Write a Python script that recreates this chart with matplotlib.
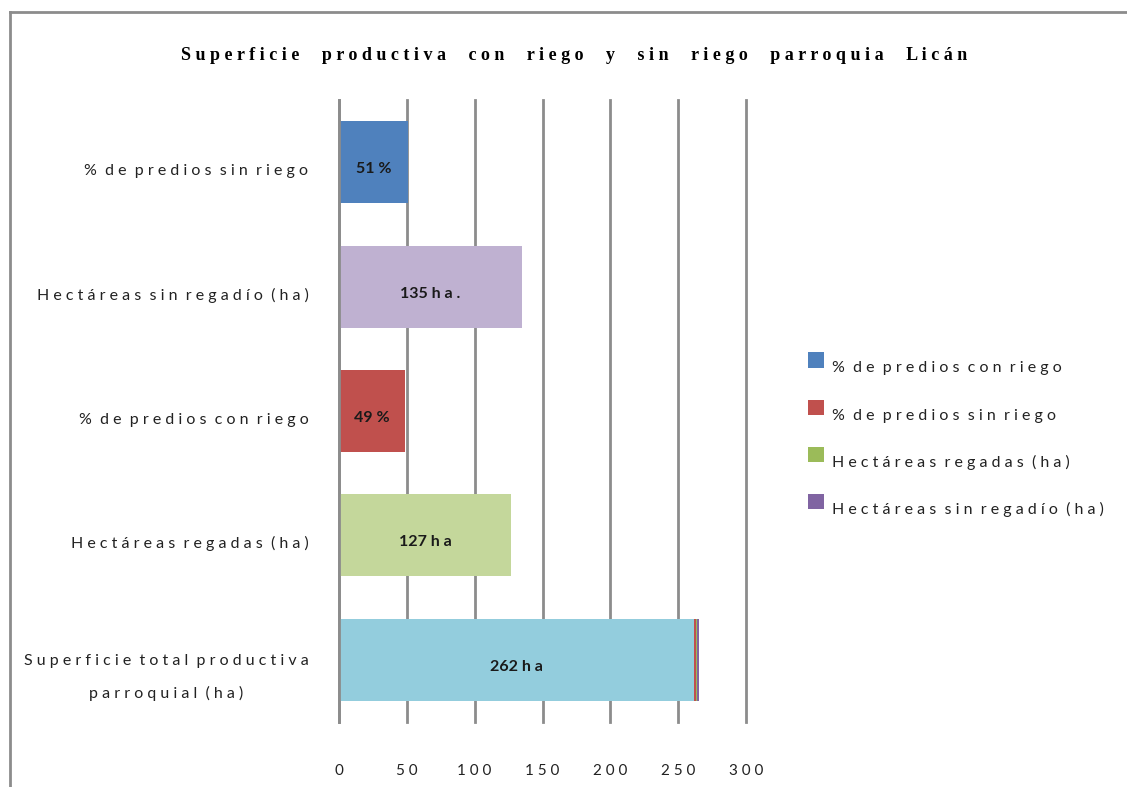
import matplotlib.pyplot as plt
import matplotlib.transforms as mtransforms
from matplotlib.lines import Line2D
from matplotlib.patches import Patch, Rectangle
from matplotlib.legend_handler import HandlerPatch

# datos (de abajo hacia arriba)
categorias = ["Superficie total productiva\nparroquial (ha)",
              "Hectáreas regadas (ha)",
              "% de predios con riego",
              "Hectáreas sin regadío (ha)",
              "% de predios sin riego"]
valores = [262, 127, 49, 135, 51]
etiquetas = ["262 h a", "127 h a", "49 %", "135 h a .", "51 %"]
colores_barras = ["#93CDDD", "#C4D79B", "#C0504D", "#BFB1D1", "#4F81BD"]
# pequeños segmentos apilados al final de la barra total
extra_total = [1.4, 0.7, 1.4]
extra_colores = ["#C0504D", "#9BBB59", "#8064A2"]

leyenda_txt = ["% de predios con riego", "% de predios sin riego",
               "Hectáreas regadas (ha)", "Hectáreas sin regadío (ha)"]
leyenda_col = ["#4F81BD", "#C0504D", "#9BBB59", "#8064A2"]
ticks = [0, 50, 100, 150, 200, 250, 300]


def esp(s, sep="  "):
    # imitar el espaciado de letras del original
    return sep.join(" ".join(w) for w in s.split(" "))


def cuadro_alto(legend, orig_handle, xdescent, ydescent, width, height, fontsize):
    # el cuadrito de la leyenda queda un poco más arriba que el texto
    return Rectangle((-xdescent, -ydescent + 5), width, height)


fuente = "Lato"
fig = plt.figure(figsize=(11.27, 7.87), dpi=100)
ax = fig.add_axes([339 / 1127, 1 - 722 / 787, 407 / 1127, 622 / 787])
abajo = mtransforms.ScaledTranslation(0, -7 / 100, fig.dpi_scale_trans)

pos = list(range(len(valores)))
ax.barh(pos, valores, height=0.66, color=colores_barras, zorder=2)
izq = valores[0]
for v, c in zip(extra_total, extra_colores):
    ax.barh(0, v, left=izq, height=0.66, color=c, zorder=2, linewidth=0)
    izq += v

for p, v, t in zip(pos, valores, etiquetas):
    ax.text(v / 2, p, t, ha="center", va="center", fontsize=11.5,
            fontweight="bold", family=fuente, color="#1a1a1a", zorder=3,
            transform=ax.transData + abajo)

ax.set_xlim(0, 300)
ax.set_ylim(-0.5, 4.5)
ax.set_xticks(ticks)
ax.set_xticklabels([" ".join(str(t)) for t in ticks], family=fuente,
                   fontsize=11, color="#222222")
ax.set_yticks(pos)
ax.set_yticklabels(["\n".join(esp(l) for l in c.split("\n")) for c in categorias],
                   family=fuente, fontsize=11.5, color="#222222",
                   multialignment="center", linespacing=2.5)
ax.tick_params(axis="x", length=0, pad=30)
ax.tick_params(axis="y", length=0, pad=22)
for lab in ax.get_yticklabels():
    lab.set_transform(lab.get_transform() + abajo)
for s in ["top", "right", "bottom"]:
    ax.spines[s].set_visible(False)
ax.spines["left"].set_color("#8c8c8c")
ax.spines["left"].set_linewidth(2)
ax.spines["left"].set_zorder(4)
ax.xaxis.grid(True, color="#8c8c8c", linewidth=2, zorder=0)
for g in ax.get_xgridlines():
    g.set_clip_on(False)
ax.set_axisbelow(True)

fig.text(574 / 1127, 1 - 56 / 787,
         esp("Superficie productiva con riego y sin riego parroquia Licán", "     "),
         ha="center", va="center", family="Liberation Serif", fontweight="bold",
         fontsize=13)

manejadores = [Patch(facecolor=c, edgecolor="none") for c in leyenda_col]
fig.legend(manejadores, [esp(t) for t in leyenda_txt], loc="upper left",
           bbox_to_anchor=(794 / 1127, 1 - 345 / 787), frameon=False,
           prop={"family": fuente, "size": 11.5}, labelspacing=1.95,
           handlelength=1.0, handleheight=1.1, handletextpad=0.5,
           labelcolor="#222222",
           handler_map={Patch: HandlerPatch(patch_func=cuadro_alto)})

# marco del gráfico
fig.add_artist(Line2D([10 / 1127, 10 / 1127], [0, 1 - 12 / 787], color="#8c8c8c",
                      linewidth=2, transform=fig.transFigure))
fig.add_artist(Line2D([10 / 1127, 1], [1 - 12 / 787, 1 - 12 / 787], color="#8c8c8c",
                      linewidth=2, transform=fig.transFigure))

fig.savefig("out.png", dpi=100, facecolor="white")
